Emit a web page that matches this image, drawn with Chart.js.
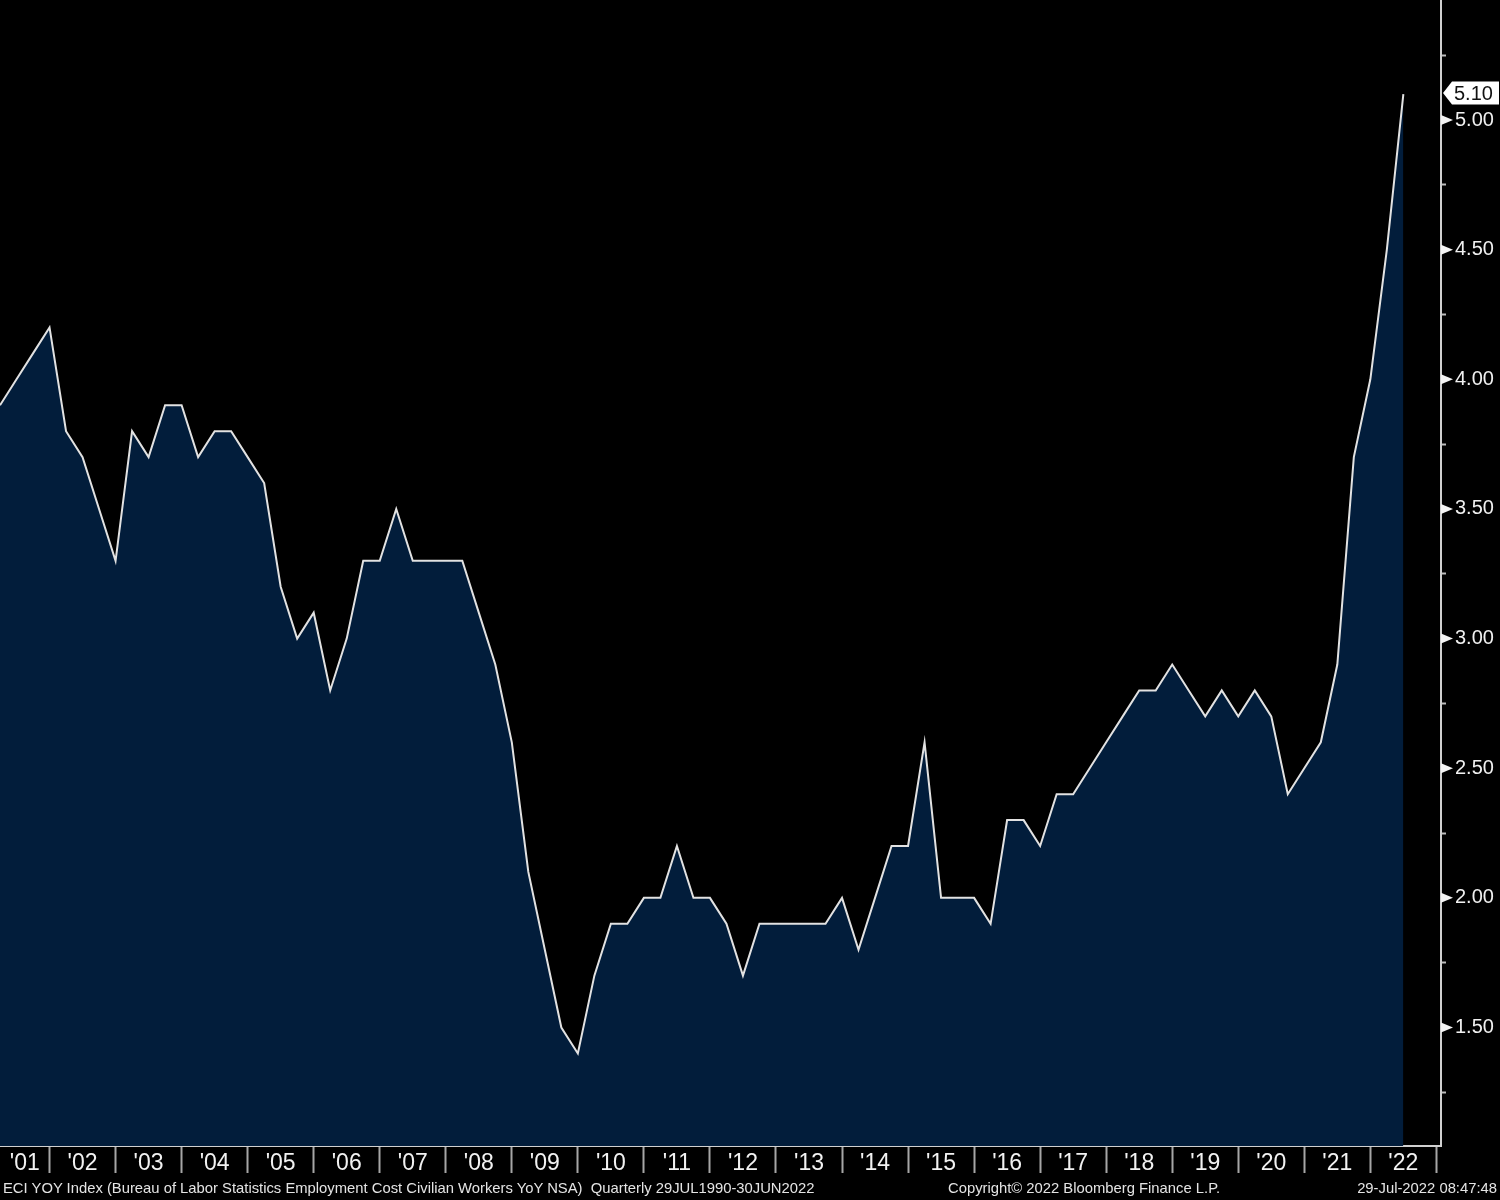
<!DOCTYPE html>
<html>
<head>
<meta charset="utf-8">
<title>ECI YOY Index</title>
<script src="https://cdn.jsdelivr.net/npm/chart.js@4.4.0/dist/chart.umd.min.js"></script>
<style>
  html, body { margin: 0; padding: 0; background: #000; }
  #wrap { position: relative; width: 1500px; height: 1200px; overflow: hidden; }
  #wrap canvas { position: absolute; left: 0; top: 0; }
  .foot {
    position: absolute; top: 1180px;
    font: 14.8px "Liberation Sans", Arial, sans-serif;
    color: #e4e4e4; white-space: pre; line-height: 17px;
  }
</style>
</head>
<body>
<div id="wrap">
  <canvas id="myChart" width="1500" height="1200"></canvas>
  <div class="foot" style="left:3px">ECI YOY Index (Bureau of Labor Statistics Employment Cost Civilian Workers YoY NSA)  Quarterly 29JUL1990-30JUN2022</div>
  <div class="foot" style="left:948px">Copyright© 2022 Bloomberg Finance L.P.</div>
  <div class="foot" style="right:3px">29-Jul-2022 08:47:48</div>
</div>
<script>
// quarters shown (quarter end dates)
const quarters = [
  "2001Q1","2001Q2","2001Q3","2001Q4",
  "2002Q1","2002Q2","2002Q3","2002Q4",
  "2003Q1","2003Q2","2003Q3","2003Q4",
  "2004Q1","2004Q2","2004Q3","2004Q4",
  "2005Q1","2005Q2","2005Q3","2005Q4",
  "2006Q1","2006Q2","2006Q3","2006Q4",
  "2007Q1","2007Q2","2007Q3","2007Q4",
  "2008Q1","2008Q2","2008Q3","2008Q4",
  "2009Q1","2009Q2","2009Q3","2009Q4",
  "2010Q1","2010Q2","2010Q3","2010Q4",
  "2011Q1","2011Q2","2011Q3","2011Q4",
  "2012Q1","2012Q2","2012Q3","2012Q4",
  "2013Q1","2013Q2","2013Q3","2013Q4",
  "2014Q1","2014Q2","2014Q3","2014Q4",
  "2015Q1","2015Q2","2015Q3","2015Q4",
  "2016Q1","2016Q2","2016Q3","2016Q4",
  "2017Q1","2017Q2","2017Q3","2017Q4",
  "2018Q1","2018Q2","2018Q3","2018Q4",
  "2019Q1","2019Q2","2019Q3","2019Q4",
  "2020Q1","2020Q2","2020Q3","2020Q4",
  "2021Q1","2021Q2","2021Q3","2021Q4",
  "2022Q1","2022Q2"
];

// ECI YoY %
const eciYoY = [
  3.9, 4.0, 4.1, 4.2,
  3.8, 3.7, 3.5, 3.3,
  3.8, 3.7, 3.9, 3.9,
  3.7, 3.8, 3.8, 3.7,
  3.6, 3.2, 3.0, 3.1,
  2.8, 3.0, 3.3, 3.3,
  3.5, 3.3, 3.3, 3.3,
  3.3, 3.1, 2.9, 2.6,
  2.1, 1.8, 1.5, 1.4,
  1.7, 1.9, 1.9, 2.0,
  2.0, 2.2, 2.0, 2.0,
  1.9, 1.7, 1.9, 1.9,
  1.9, 1.9, 1.9, 2.0,
  1.8, 2.0, 2.2, 2.2,
  2.6, 2.0, 2.0, 2.0,
  1.9, 2.3, 2.3, 2.2,
  2.4, 2.4, 2.5, 2.6,
  2.7, 2.8, 2.8, 2.9,
  2.8, 2.7, 2.8, 2.7,
  2.8, 2.7, 2.4, 2.5,
  2.6, 2.9, 3.7, 4.0,
  4.5, 5.1
];

// x axis year labels
const years = [2001,2002,2003,2004,2005,2006,2007,2008,2009,2010,2011,
               2012,2013,2014,2015,2016,2017,2018,2019,2020,2021,2022];
const yearLabels = ["'01","'02","'03","'04","'05","'06","'07","'08","'09","'10","'11",
                    "'12","'13","'14","'15","'16","'17","'18","'19","'20","'21","'22"];

// y axis ticks (minor every 0.25, labelled every 0.50)
const yTicks = [1.25, 1.50, 1.75, 2.00, 2.25, 2.50, 2.75, 3.00, 3.25,
                3.50, 3.75, 4.00, 4.25, 4.50, 4.75, 5.00, 5.25];

const X_MIN = 2001.25, X_MAX = 2023.07;
const Y_MIN = 1.043, Y_MAX = 5.463;

function quarterToYear(q) {
  return parseInt(q.slice(0, 4)) + parseInt(q.slice(5)) * 0.25;
}
function isMajor(v) {
  return Math.abs(v * 2 - Math.round(v * 2)) < 1e-6;
}

// label sits in the middle of the visible part of each year
const labelAt = {};
const xTickValues = [];
years.forEach((yr, i) => {
  const mid = (Math.max(yr, X_MIN) + Math.min(yr + 1, X_MAX)) / 2;
  labelAt[mid.toFixed(4)] = yearLabels[i];
  xTickValues.push(mid);
  if (yr + 1 <= X_MAX) xTickValues.push(yr + 1);
});
xTickValues.sort((a, b) => a - b);

const points = quarters.map((q, i) => ({ x: quarterToYear(q), y: eciYoY[i] }));

const font = "'Liberation Sans', Arial, sans-serif";

// triangles on the y axis + last value flag
const markers = {
  id: "markers",
  afterDraw(chart) {
    const ctx = chart.ctx;
    const ys = chart.scales.y;
    const x0 = ys.left;
    ctx.save();
    ctx.fillStyle = "#f4f4f4";
    ys.ticks.forEach(t => {
      if (!isMajor(t.value)) return;
      const py = ys.getPixelForValue(t.value);
      ctx.beginPath();
      ctx.moveTo(x0, py - 5);
      ctx.lineTo(x0 + 12, py);
      ctx.lineTo(x0, py + 5);
      ctx.closePath();
      ctx.fill();
    });

    const last = eciYoY[eciYoY.length - 1];
    const py = ys.getPixelForValue(last) - 1;
    ctx.fillStyle = "#ffffff";
    ctx.beginPath();
    ctx.moveTo(x0 + 2, py);
    ctx.lineTo(x0 + 11, py - 11.5);
    ctx.lineTo(1499, py - 11.5);
    ctx.lineTo(1499, py + 11.5);
    ctx.lineTo(x0 + 11, py + 11.5);
    ctx.closePath();
    ctx.fill();
    ctx.fillStyle = "#111111";
    ctx.font = "20px " + font;
    ctx.textBaseline = "middle";
    ctx.textAlign = "left";
    ctx.fillText(last.toFixed(2), x0 + 13, py + 1);
    ctx.restore();
  }
};

const ctx = document.getElementById("myChart");

new Chart(ctx, {
  type: "line",
  data: {
    datasets: [{
      label: "ECI YOY Index",
      data: points,
      borderColor: "#e2e2e2",
      borderWidth: 2,
      backgroundColor: "#021d3b",
      fill: "start",
      pointRadius: 0,
      tension: 0
    }]
  },
  options: {
    responsive: false,
    animation: false,
    devicePixelRatio: 1,
    layout: { padding: 0 },
    plugins: {
      legend: { display: false },
      tooltip: { enabled: false }
    },
    scales: {
      x: {
        type: "linear",
        position: "bottom",
        min: X_MIN,
        max: X_MAX,
        afterBuildTicks: s => { s.ticks = xTickValues.map(v => ({ value: v })); },
        afterFit: s => { s.height = 54; s.paddingLeft = 0; s.paddingRight = 0; },
        ticks: {
          autoSkip: false,
          maxRotation: 0,
          minRotation: 0,
          padding: -23,
          color: "#f2f2f2",
          font: { family: font, size: 23 },
          callback: v => labelAt[Number(v).toFixed(4)] || ""
        },
        grid: {
          drawOnChartArea: false,
          drawTicks: true,
          tickLength: 27,
          tickWidth: 2,
          tickColor: c => (c.tick && Number.isInteger(c.tick.value)) ? "#a6a6a6" : "rgba(0,0,0,0)"
        },
        border: { display: true, color: "#d0d0d0", width: 2 }
      },
      y: {
        type: "linear",
        position: "right",
        min: Y_MIN,
        max: Y_MAX,
        afterBuildTicks: s => { s.ticks = yTicks.map(v => ({ value: v })); },
        afterFit: s => { s.width = 59; s.paddingTop = 0; s.paddingBottom = 0; },
        ticks: {
          autoSkip: false,
          padding: 9,
          color: "#f0f0f0",
          font: { family: font, size: 20 },
          callback: v => isMajor(v) ? Number(v).toFixed(2) : ""
        },
        grid: {
          drawOnChartArea: false,
          drawTicks: true,
          tickLength: 5,
          tickWidth: 2,
          tickColor: c => (c.tick && !isMajor(c.tick.value)) ? "#bdbdbd" : "rgba(0,0,0,0)"
        },
        border: { display: true, color: "#d0d0d0", width: 2 }
      }
    }
  },
  plugins: [markers]
});
</script>
</body>
</html>
